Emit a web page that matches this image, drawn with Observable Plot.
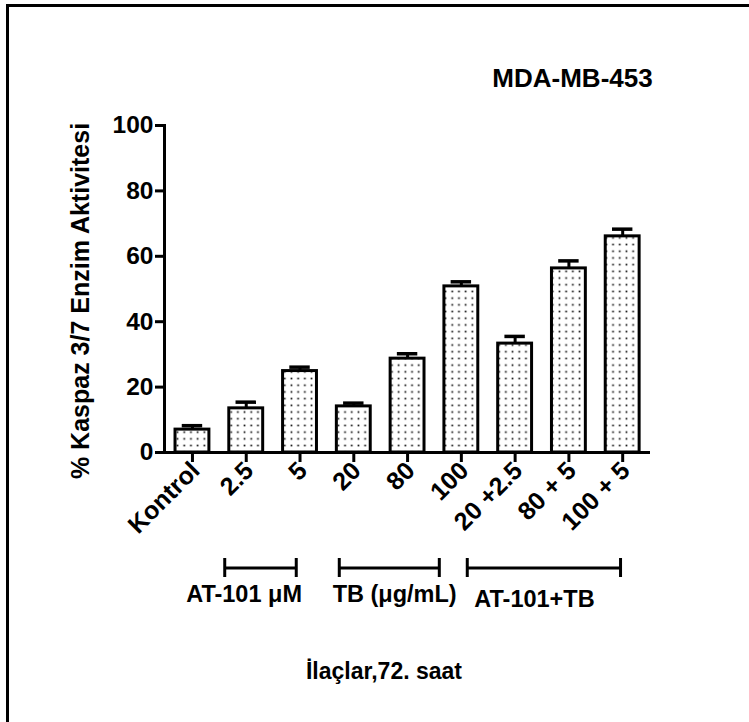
<!DOCTYPE html>
<html><head><meta charset="utf-8">
<script src="https://cdn.jsdelivr.net/npm/d3@7"></script>
<script src="https://cdn.jsdelivr.net/npm/@observablehq/plot@0.6"></script>
<style>
body{margin:0;background:#fff;}
#wrap{position:relative;width:749px;height:722px;overflow:hidden;font-family:"Liberation Sans",Arial,sans-serif;color:#000;}
#border{position:absolute;left:6px;top:4px;width:760px;height:740px;border-top:3px solid #000;border-left:3px solid #000;}
.abs{position:absolute;}
#title{left:472.5px;width:200px;top:65px;font-size:26px;line-height:26px;font-weight:bold;text-align:center;white-space:nowrap;}
#xlabel{left:234px;width:300px;top:660px;font-size:23px;line-height:23px;font-weight:bold;text-align:center;white-space:nowrap;}
</style></head><body>
<div id="wrap"><div id="border"></div><div id="chart" class="abs" style="left:0;top:0"></div><div id="brackets" class="abs" style="left:0;top:545px"></div><div id="title" class="abs"></div><div id="xlabel" class="abs"></div></div>
<script>
const categories = ["Kontrol","2.5","5","20","80","100","20 +2.5","80 + 5","100 + 5"];
const means = [7.0,13.5,24.9,14.1,28.7,50.8,33.3,56.3,66.1];
const errors = [1.2,1.9,1.2,1.0,1.5,1.4,2.2,2.3,2.2];
const yTicks = [0,20,40,60,80,100];
const groupLabels = ["AT-101 \u03bcM","TB (\u03bcg/mL)","AT-101+TB"];
const groupStart = [0.6,2.73,5.11];
const groupEnd = [1.93,4.59,7.96];
const groupLabelX = [0.96,3.76,6.36];
const title = "MDA-MB-453";
const yLabel = "% Kaspaz 3/7 Enzim Aktivitesi";
const xLabel = "\u0130la\u00e7lar,72. saat";

const data = categories.map((c,i)=>({i, c, m: means[i], e: errors[i]}));
const groups = groupLabels.map((g,i)=>({g, s: groupStart[i], e: groupEnd[i], lx: groupLabelX[i], k: i}));
const half = 0.315, cap = 0.19;
const font = "Liberation Sans, Arial, sans-serif";
const xDomain = [-0.52, 8.48];

const defs = () => {
  const d = d3.create("svg:defs");
  const p = d.append("pattern").attr("id","dots").attr("width",6.7).attr("height",6.7).attr("patternUnits","userSpaceOnUse");
  p.append("rect").attr("width",6.7).attr("height",6.7).attr("fill","white");
  p.append("rect").attr("x",2.5).attr("y",2.5).attr("width",1.7).attr("height",1.7).attr("fill","#111");
  return d.node();
};

const main = Plot.plot({
  width:749, height:545, marginTop:125, marginBottom:93, marginLeft:164, marginRight:101,
  style:{background:"transparent", overflow:"visible", fontFamily:font, color:"black"},
  x:{type:"linear", domain:xDomain},
  y:{domain:[0,100]},
  marks:[
    defs,
    Plot.ruleX(data,{x:"i", y1:"m", y2:d=>d.m+d.e, strokeWidth:3, stroke:"black"}),
    Plot.ruleY(data,{x1:d=>d.i-cap, x2:d=>d.i+cap, y:d=>d.m+d.e, strokeWidth:3.5, stroke:"black"}),
    Plot.rectY(data,{x1:d=>d.i-half, x2:d=>d.i+half, y1:0, y2:"m", fill:"url(#dots)", stroke:"black", strokeWidth:3}),
    Plot.axisY({ticks:yTicks, tickSize:9, tickPadding:2, strokeWidth:3, fontSize:24.5, fontWeight:"bold", label:null, fill:"black"}),
    Plot.axisX({ticks:d3.range(categories.length), tickFormat:()=>"", tickSize:10, strokeWidth:3, label:null}),
    Plot.text(data,{x:"i", text:"c", frameAnchor:"bottom", rotate:-45, textAnchor:"end", lineAnchor:"middle", dx:3, dy:14, fontSize:25, fontWeight:"bold", fill:"black"}),
    Plot.frame({anchor:"left", strokeWidth:3, stroke:"black"}),
    Plot.frame({anchor:"bottom", strokeWidth:3, stroke:"black"}),
    Plot.text([yLabel], {text:d=>d, frameAnchor:"left", textAnchor:"middle", rotate:-90, dx:-84, dy:12, fontSize:25, fontWeight:"bold", fill:"black"})
  ]
});
document.getElementById("chart").append(main);

const br = Plot.plot({
  width:749, height:100, marginTop:13, marginBottom:68, marginLeft:164, marginRight:101,
  style:{background:"transparent", overflow:"visible", fontFamily:font, color:"black"},
  x:{type:"linear", domain:xDomain, axis:null},
  y:{domain:[0,1], axis:null},
  marks:[
    Plot.ruleY(groups,{x1:"s", x2:"e", y:0.5, strokeWidth:3, stroke:"black"}),
    Plot.ruleX(groups,{x:"s", y1:0, y2:1, strokeWidth:3, stroke:"black"}),
    Plot.ruleX(groups,{x:"e", y1:0, y2:1, strokeWidth:3, stroke:"black"}),
    Plot.text(groups,{filter:d=>d.k<2, x:"lx", text:"g", frameAnchor:"bottom", dy:24, fontSize:23.5, fontWeight:"bold", fill:"black"}),
    Plot.text(groups,{filter:d=>d.k===2, x:"lx", text:"g", frameAnchor:"bottom", dy:29, fontSize:23.5, fontWeight:"bold", fill:"black"})
  ]
});
document.getElementById("brackets").append(br);
document.getElementById("title").textContent = title;
document.getElementById("xlabel").textContent = xLabel;
</script>
</body></html>
